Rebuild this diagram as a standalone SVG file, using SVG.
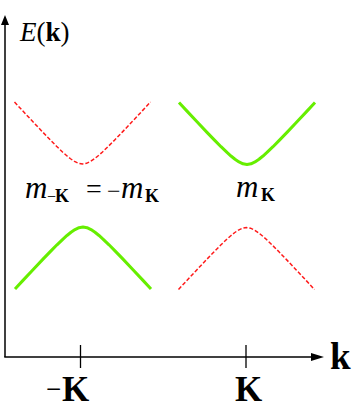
<svg xmlns="http://www.w3.org/2000/svg" width="354" height="413" viewBox="0 0 354 413">
<style>
.ax{stroke:#000;stroke-width:1.5;fill:none}
.tick{stroke:#000;stroke-width:1.3}
.red{fill:none;stroke:#ff1a1a;stroke-width:1.5;stroke-dasharray:4 2}
.grn{fill:none;stroke:#66ee00;stroke-width:3;stroke-linejoin:round;stroke-linecap:butt}
text{font-family:"Liberation Serif","Times New Roman",serif;fill:#000}
.it{font-style:italic}
.bf{font-weight:bold}
.m{font-style:italic;font-size:31px}
.sub{font-weight:bold;font-size:18px}
</style>
<defs>
<path id="band" d="M-68,-62 L-60,-53.38 L-50,-42.68 L-40,-32.12 L-32,-23.84 L-26,-17.81 L-20,-12.05 L-16,-8.47 L-12,-5.23 L-8,-2.53 L-4,-0.67 L0,0 L4,-0.67 L8,-2.53 L12,-5.23 L16,-8.47 L20,-12.05 L26,-17.81 L32,-23.84 L40,-32.12 L50,-42.68 L60,-53.38 L68,-62"/>
</defs>
<g id="axes">
<line class="ax" x1="5" y1="357" x2="5" y2="24"/>
<polygon points="5,15 1,25 9,25" fill="#000"/>
<line class="ax" x1="4.25" y1="357" x2="314" y2="357"/>
<polygon points="324,357 311,353 311,361" fill="#000"/>
<line class="tick" x1="80.5" y1="345" x2="80.5" y2="368"/>
<line class="tick" x1="246" y1="345" x2="246" y2="368"/>
</g>
<g id="bands">
<use href="#band" class="red" transform="translate(82.5,164)"/>
<use href="#band" class="grn" transform="translate(247,164.5)"/>
<use href="#band" class="grn" transform="translate(83,227) scale(1,-1)"/>
<use href="#band" class="red" transform="translate(246.5,227.5) scale(1,-1)"/>
</g>
<g id="labels">
<text x="20" y="41" font-size="27"><tspan class="it">E</tspan>(<tspan class="bf">k</tspan>)</text>
<text x="25" y="198" class="m">m</text>
<text x="47" y="202" font-size="16">−</text>
<text x="55" y="202" class="sub">K</text>
<text x="86" y="198" font-size="28">=</text>
<text x="107" y="199" font-size="24">−</text>
<text x="121" y="198" class="m">m</text>
<text x="145" y="202" class="sub">K</text>
<text x="236" y="197" class="m">m</text>
<text x="261" y="201" class="sub">K</text>
<text x="46" y="398" font-size="27">−</text>
<text x="62" y="401" font-size="35" class="bf">K</text>
<text x="235" y="401" font-size="35" class="bf">K</text>
<text x="330" y="369" font-size="37" class="bf">k</text>
</g>
</svg>
